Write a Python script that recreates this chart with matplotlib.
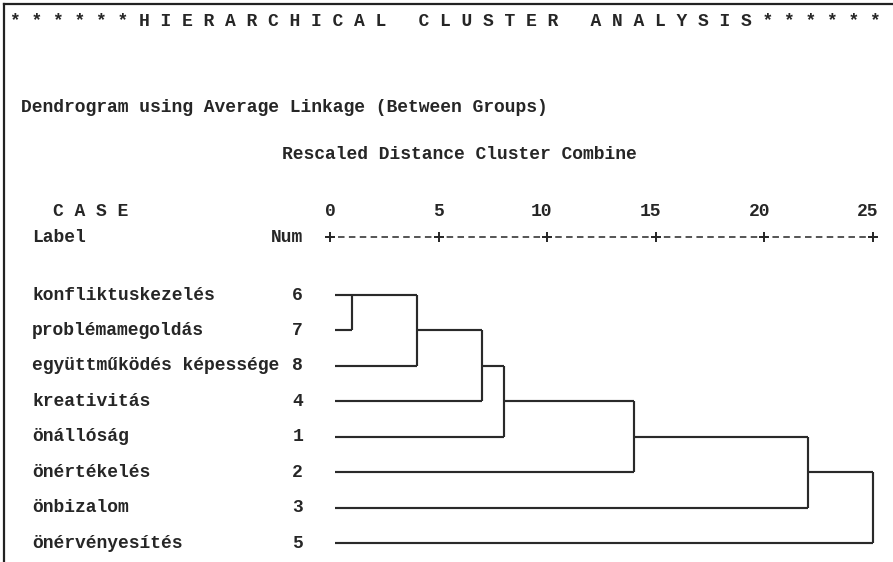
import matplotlib
matplotlib.use("Agg")
import matplotlib.pyplot as plt
from matplotlib.lines import Line2D
from matplotlib.transforms import blended_transform_factory, ScaledTranslation

# Cases in dendrogram order (top to bottom) and their case numbers
labels = ["konfliktuskezelés", "problémamegoldás", "együttműködés képessége",
          "kreativitás", "önállóság", "önértékelés", "önbizalom", "önérvényesítés"]
case_nums = [6, 7, 8, 4, 1, 2, 3, 5]

# Agglomeration schedule: cluster kept, cluster joined, rescaled distance
merge_keep = [6, 6, 6, 6, 6, 6, 6]
merge_join = [7, 8, 4, 1, 2, 3, 5]
merge_dist = [1.0, 4.0, 7.0, 8.0, 14.0, 22.0, 25.0]

axis_ticks = [0, 5, 10, 15, 20, 25]

title = "* * * * * * H I E R A R C H I C A L   C L U S T E R   A N A L Y S I S * * * * * *"
subtitle = "Dendrogram using Average Linkage (Between Groups)"
scale_title = "Rescaled Distance Cluster Combine"

W, H, DPI = 893, 562, 100
FONT = "Liberation Mono"
FS = 13
WEIGHT = "bold"
INK = "#262626"
LINE = "#2a2a2a"
plt.rcParams["font.family"] = [FONT, "DejaVu Sans Mono"]
plt.rcParams["lines.scale_dashes"] = False

fig = plt.figure(figsize=(W / DPI, H / DPI), dpi=DPI)
fig.patch.set_facecolor("white")


def fx(px):
    return px / W


def fy(py):
    return 1 - py / H


# Dendrogram area: x = rescaled distance 0..25, y = row index 0..7
x0_px, x1_px = 330, 873
top_px, bot_px = 295, 543
ax = fig.add_axes([fx(x0_px), fy(bot_px), fx(x1_px - x0_px), (bot_px - top_px) / H])
ax.set_xlim(0, 25)
ax.set_ylim(len(labels) - 1, 0)
ax.axis("off")

# Walk the agglomeration schedule, drawing the bracket for each join
leaf_start = 0.23
state = {num: (row, leaf_start) for row, num in enumerate(case_nums)}
seg = dict(color=LINE, lw=1.55, solid_capstyle="butt", clip_on=False)
for a, b, d in zip(merge_keep, merge_join, merge_dist):
    ra, xa = state[a]
    rb, xb = state[b]
    ax.plot([xa, d], [ra, ra], **seg)
    ax.plot([xb, d], [rb, rb], **seg)
    ax.plot([d, d], [ra, rb], **seg)
    lo, hi = min(ra, rb), max(ra, rb)
    state[a] = (lo + (hi - lo) // 2, d)
    del state[b]

txt = dict(fontsize=FS, color=INK, fontweight=WEIGHT)

# Case labels and numbers on the left
row_tr = blended_transform_factory(fig.transFigure, ax.transData)
for row, (lab, num) in enumerate(zip(labels, case_nums)):
    ax.text(fx(32), row, lab, transform=row_tr, ha="left", va="center", **txt)
    ax.text(fx(303), row, str(num), transform=row_tr, ha="right", va="center", **txt)

# Text ruler "+---------+---------+ ..." along the distance scale
ruler_tr = blended_transform_factory(ax.transData, fig.transFigure)
cell = 0.5  # one character cell in distance units
cell_pt = (x1_px - x0_px) / 25 * cell * 72 / DPI
on_pt, off_pt = cell_pt * 0.6, cell_pt * 0.4
ax.plot([axis_ticks[0] - cell / 2, axis_ticks[-1] + cell / 2], [fy(237)] * 2,
        transform=ruler_tr, color=INK, lw=1.1, clip_on=False,
        linestyle=(on_pt + off_pt / 2, (on_pt, off_pt)))
ax.plot(axis_ticks, [fy(237)] * len(axis_ticks), transform=ruler_tr,
        ls="none", marker="+", ms=7, mew=1.4, color=INK, clip_on=False)
num_tr = ruler_tr + ScaledTranslation(5.5 / DPI, 0, fig.dpi_scale_trans)
for t in axis_ticks:
    ax.text(t, fy(212), str(t), transform=num_tr, ha="right", va="center", **txt)

# Header lines
fig.text(fx(10), fy(22), title, ha="left", va="center", **txt)
fig.text(fx(21), fy(108), subtitle, ha="left", va="center", **txt)
fig.text(fx(282), fy(155), scale_title, ha="left", va="center", **txt)
fig.text(fx(53), fy(212), "C A S E", ha="left", va="center", **txt)
fig.text(fx(32), fy(237), "Label", ha="left", va="center", **txt)
fig.text(fx(303), fy(237), "Num", ha="right", va="center", **txt)

# Frame edges on the left and top
fig.add_artist(Line2D([fx(4), fx(4)], [0, fy(4)], transform=fig.transFigure,
                      color="#222222", lw=1.6))
fig.add_artist(Line2D([fx(4), 1], [fy(4), fy(4)], transform=fig.transFigure,
                      color="#222222", lw=1.6))

fig.savefig("out.png", dpi=DPI, facecolor="white")
